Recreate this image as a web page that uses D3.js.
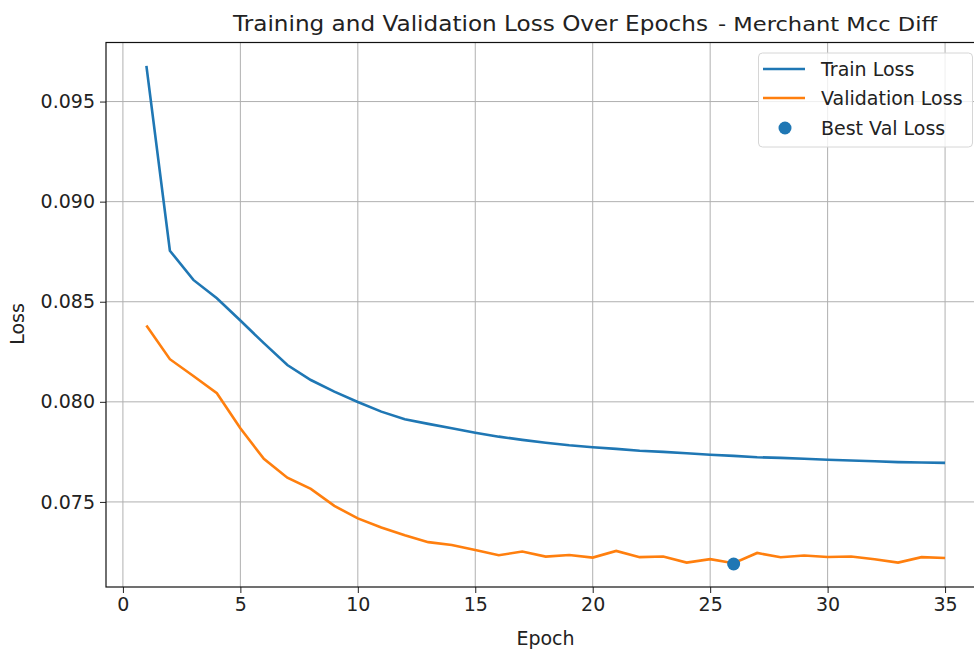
<!DOCTYPE html>
<html>
<head>
<meta charset="utf-8">
<script src="https://cdn.jsdelivr.net/npm/d3@7"></script>
<style>
  html, body { margin: 0; padding: 0; background: #fff; overflow: hidden; }
  text { font-family: "DejaVu Sans", sans-serif; fill: #222; }
</style>
</head>
<body>
<div id="chart"></div>
<script>
// values
const epochs = d3.range(1, 36);
const trainLoss = [0.09678, 0.08755, 0.08609, 0.08517, 0.08406, 0.08293, 0.08184, 0.08109, 0.08051, 0.07999,
                   0.07951, 0.07913, 0.07890, 0.07868, 0.07846, 0.07826, 0.07810, 0.07796, 0.07783, 0.07773,
                   0.07765, 0.07756, 0.07750, 0.07743, 0.07736, 0.07730, 0.07723, 0.07720, 0.07716, 0.07711,
                   0.07707, 0.07703, 0.07699, 0.07697, 0.07695];
const valLoss = [0.08381, 0.08213, 0.08129, 0.08043, 0.07868, 0.07715, 0.07621, 0.07565, 0.07480, 0.07418,
                 0.07372, 0.07333, 0.07299, 0.07285, 0.07260, 0.07234, 0.07252, 0.07227, 0.07235, 0.07222,
                 0.07255, 0.07224, 0.07227, 0.07197, 0.07214, 0.07194, 0.07245, 0.07224, 0.07232, 0.07225,
                 0.07227, 0.07214, 0.07197, 0.07224, 0.07220];
const bestEpoch = 26;
const bestVal = 0.07190;
const xTicks = [0, 5, 10, 15, 20, 25, 30, 35];
const yTicks = [0.075, 0.080, 0.085, 0.090, 0.095];
const legendItems = ["Train Loss", "Validation Loss", "Best Val Loss"];

const width = 974, height = 649;
const plotLeft = 106, plotRight = 985, plotTop = 42.5, plotBottom = 587;
const blue = "#1f77b4", orange = "#ff7f0e";
const fontSize = 19;

const x = d3.scaleLinear().domain([-0.72, 36.7]).range([plotLeft, plotRight]);
const y = d3.scaleLinear().domain([0.07075, 0.09795]).range([plotBottom, plotTop]);

const svg = d3.select("#chart").append("svg")
  .attr("width", width)
  .attr("height", height);

// grid
svg.append("g")
  .attr("stroke", "#b0b0b0")
  .attr("stroke-width", 1)
  .call(g => g.selectAll("line.v").data(xTicks).join("line")
    .attr("class", "v")
    .attr("x1", d => x(d)).attr("x2", d => x(d))
    .attr("y1", plotTop).attr("y2", plotBottom))
  .call(g => g.selectAll("line.h").data(yTicks).join("line")
    .attr("class", "h")
    .attr("x1", plotLeft).attr("x2", plotRight)
    .attr("y1", d => y(d)).attr("y2", d => y(d)));

// axes
const xAxis = d3.axisBottom(x).tickValues(xTicks).tickFormat(d3.format("d")).tickSize(6).tickPadding(5);
const yAxis = d3.axisLeft(y).tickValues(yTicks).tickFormat(d3.format(".3f")).tickSize(6).tickPadding(5);

svg.append("g")
  .attr("transform", `translate(0,${plotBottom})`)
  .call(xAxis)
  .call(g => g.select(".domain").remove())
  .call(g => g.selectAll("line").attr("stroke", "#222"))
  .call(g => g.selectAll("text").attr("font-size", fontSize).attr("font-family", "DejaVu Sans").attr("fill", "#222"));

svg.append("g")
  .attr("transform", `translate(${plotLeft},0)`)
  .call(yAxis)
  .call(g => g.select(".domain").remove())
  .call(g => g.selectAll("line").attr("stroke", "#222"))
  .call(g => g.selectAll("text").attr("font-size", fontSize).attr("font-family", "DejaVu Sans").attr("fill", "#222"));

// frame
svg.append("rect")
  .attr("x", plotLeft).attr("y", plotTop)
  .attr("width", plotRight - plotLeft).attr("height", plotBottom - plotTop)
  .attr("fill", "none").attr("stroke", "#111").attr("stroke-width", 1.2);

// lines
const line = d3.line().x((d, i) => x(epochs[i])).y(d => y(d));

svg.append("path")
  .datum(trainLoss)
  .attr("fill", "none")
  .attr("stroke", blue)
  .attr("stroke-width", 2.6)
  .attr("d", line);

svg.append("path")
  .datum(valLoss)
  .attr("fill", "none")
  .attr("stroke", orange)
  .attr("stroke-width", 2.6)
  .attr("d", line);

svg.append("circle")
  .attr("cx", x(bestEpoch))
  .attr("cy", y(bestVal))
  .attr("r", 6.5)
  .attr("fill", blue);

// labels
svg.append("text")
  .attr("x", (plotLeft + plotRight) / 2)
  .attr("y", 645)
  .attr("text-anchor", "middle")
  .attr("font-size", fontSize)
  .text("Epoch");

svg.append("text")
  .attr("transform", "translate(24,324) rotate(-90)")
  .attr("text-anchor", "middle")
  .attr("font-size", fontSize)
  .text("Loss");

svg.append("text")
  .attr("x", 233)
  .attr("y", 31)
  .attr("font-size", 21)
  .attr("textLength", 475)
  .attr("lengthAdjust", "spacingAndGlyphs")
  .text("Training and Validation Loss Over Epochs");

svg.append("text")
  .attr("x", 718)
  .attr("y", 31)
  .attr("font-size", 20)
  .attr("font-family", "Open Sans")
  .attr("font-weight", 500)
  .attr("textLength", 219)
  .attr("lengthAdjust", "spacingAndGlyphs")
  .text("- Merchant Mcc Diff");

// legend
const legend = svg.append("g");
legend.append("rect")
  .attr("x", 758.5).attr("y", 53)
  .attr("width", 214).attr("height", 94)
  .attr("rx", 4)
  .attr("fill", "rgba(255,255,255,0.8)")
  .attr("stroke", "#d6d6d6");

const rowY = [69, 98, 128];
const item = legend.selectAll("g.item").data(legendItems).join("g")
  .attr("class", "item")
  .attr("transform", (d, i) => `translate(0,${rowY[i]})`);

item.filter((d, i) => i < 2).append("line")
  .attr("x1", 763).attr("x2", 805)
  .attr("stroke", (d, i) => i === 0 ? blue : orange)
  .attr("stroke-width", 2.6);

item.filter((d, i) => i === 2).append("circle")
  .attr("cx", 785).attr("r", 6.5).attr("fill", blue);

item.append("text")
  .attr("x", 821)
  .attr("y", 6.5)
  .attr("font-size", fontSize)
  .text(d => d);
</script>
</body>
</html>
